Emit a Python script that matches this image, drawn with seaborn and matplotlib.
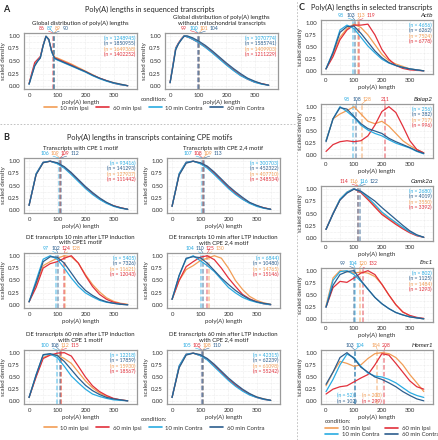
import numpy as np
import pandas as pd
import matplotlib
matplotlib.use("Agg")
import matplotlib.pyplot as plt
import seaborn as sns
from matplotlib.lines import Line2D

# --- DATA ---
CONDITIONS = ["10 min Ipsi", "60 min Ipsi", "10 min Contra", "60 min Contra"]
COLORS = {"10 min Ipsi": "#F29D55", "60 min Ipsi": "#E2303B",
          "10 min Contra": "#29ABE2", "60 min Contra": "#2C5E8E"}
N_ORDER = [2, 3, 0, 1]  # n labels listed LB, DB, OR, RD

X_A = [0, 10, 20, 30, 40, 50, 60, 70, 80, 90, 100, 125, 150, 175, 200, 225, 250, 275, 300, 325, 350]
X = [0, 25, 50, 75, 100, 125, 150, 175, 200, 225, 250, 275, 300, 325, 350]

# A: global distributions (curves in CONDITIONS order)
a1_curves = [
    [0.05, 0.24, 0.43, 0.51, 0.58, 0.81, 0.99, 0.93, 0.71, 0.58, 0.56, 0.50, 0.44, 0.37, 0.30, 0.23, 0.16, 0.11, 0.07, 0.04, 0.01],
    [0.05, 0.27, 0.47, 0.53, 0.59, 0.82, 0.99, 0.92, 0.69, 0.56, 0.54, 0.48, 0.42, 0.35, 0.29, 0.22, 0.16, 0.11, 0.06, 0.03, 0.01],
    [0.04, 0.23, 0.41, 0.50, 0.57, 0.81, 0.99, 0.92, 0.68, 0.55, 0.52, 0.46, 0.40, 0.34, 0.28, 0.21, 0.15, 0.10, 0.06, 0.03, 0.01],
    [0.04, 0.22, 0.40, 0.49, 0.56, 0.80, 0.99, 0.93, 0.70, 0.56, 0.53, 0.47, 0.41, 0.35, 0.29, 0.22, 0.16, 0.11, 0.07, 0.04, 0.01],
]
a1_medians = [89, 86, 87, 90]
a1_n = [1649368, 1402252, 1248945, 1850955]

a2_curves = [
    [0.07, 0.40, 0.74, 0.85, 0.93, 1.00, 0.98, 0.96, 0.94, 0.91, 0.88, 0.79, 0.68, 0.56, 0.44, 0.33, 0.23, 0.15, 0.09, 0.05, 0.02],
    [0.07, 0.42, 0.76, 0.86, 0.94, 1.00, 0.98, 0.96, 0.93, 0.90, 0.87, 0.78, 0.67, 0.55, 0.43, 0.32, 0.22, 0.14, 0.08, 0.05, 0.02],
    [0.07, 0.41, 0.75, 0.85, 0.93, 1.00, 0.98, 0.96, 0.93, 0.90, 0.87, 0.77, 0.66, 0.54, 0.42, 0.31, 0.21, 0.14, 0.08, 0.04, 0.02],
    [0.07, 0.38, 0.72, 0.84, 0.92, 0.99, 1.00, 0.98, 0.96, 0.93, 0.90, 0.81, 0.70, 0.58, 0.46, 0.35, 0.25, 0.16, 0.10, 0.05, 0.02],
]
a2_medians = [101, 99, 100, 104]
a2_n = [1409903, 1211229, 1070774, 1585741]

# B: CPE motifs
b1_curves = [
    [0.10, 0.73, 0.96, 0.99, 0.95, 0.87, 0.74, 0.60, 0.46, 0.34, 0.24, 0.15, 0.09, 0.05, 0.02],
    [0.10, 0.73, 0.97, 0.99, 0.95, 0.86, 0.74, 0.60, 0.46, 0.34, 0.23, 0.15, 0.09, 0.05, 0.02],
    [0.10, 0.74, 0.97, 0.99, 0.94, 0.85, 0.72, 0.58, 0.44, 0.32, 0.22, 0.14, 0.08, 0.04, 0.02],
    [0.10, 0.72, 0.96, 0.99, 0.96, 0.88, 0.76, 0.62, 0.48, 0.36, 0.25, 0.16, 0.09, 0.05, 0.02],
]
b1_medians = [109, 109.2, 106, 112]
b1_n = [127937, 111442, 93416, 141293]

b2_curves = [
    [0.08, 0.72, 0.96, 0.99, 0.95, 0.88, 0.75, 0.61, 0.47, 0.35, 0.24, 0.15, 0.09, 0.05, 0.02],
    [0.08, 0.73, 0.97, 0.99, 0.95, 0.87, 0.74, 0.60, 0.46, 0.34, 0.23, 0.15, 0.09, 0.05, 0.02],
    [0.08, 0.74, 0.97, 0.99, 0.94, 0.85, 0.72, 0.58, 0.44, 0.32, 0.22, 0.14, 0.08, 0.04, 0.02],
    [0.08, 0.71, 0.95, 0.99, 0.96, 0.89, 0.77, 0.63, 0.49, 0.37, 0.26, 0.16, 0.10, 0.05, 0.02],
]
b2_medians = [109, 108, 107, 113]
b2_n = [407710, 348534, 300703, 452322]

b3_curves = [
    [0.07, 0.42, 0.80, 0.88, 0.95, 1.00, 0.98, 0.85, 0.62, 0.42, 0.27, 0.15, 0.08, 0.04, 0.02],
    [0.07, 0.36, 0.75, 0.84, 0.88, 0.95, 1.00, 0.85, 0.60, 0.38, 0.22, 0.12, 0.06, 0.03, 0.01],
    [0.07, 0.50, 0.93, 1.00, 0.93, 0.75, 0.55, 0.38, 0.25, 0.17, 0.10, 0.06, 0.04, 0.02, 0.01],
    [0.07, 0.45, 0.88, 0.98, 0.97, 0.85, 0.65, 0.45, 0.30, 0.20, 0.12, 0.07, 0.04, 0.02, 0.01],
]
b3_medians = [128, 124, 97, 102]
b3_n = [11621, 12043, 5405, 7326]

b4_curves = [
    [0.12, 0.50, 0.72, 0.80, 0.90, 0.95, 1.00, 0.95, 0.75, 0.50, 0.32, 0.18, 0.10, 0.05, 0.02],
    [0.12, 0.50, 0.78, 0.88, 0.97, 1.00, 0.92, 0.75, 0.55, 0.38, 0.22, 0.13, 0.07, 0.03, 0.01],
    [0.12, 0.60, 0.93, 1.00, 0.90, 0.80, 0.68, 0.52, 0.36, 0.25, 0.16, 0.10, 0.06, 0.03, 0.01],
    [0.12, 0.60, 0.95, 0.98, 0.96, 0.85, 0.70, 0.55, 0.42, 0.30, 0.20, 0.12, 0.07, 0.04, 0.02],
]
b4_medians = [130, 125, 104, 110]
b4_n = [14765, 15146, 6844, 10480]

b5_curves = [
    [0.08, 0.52, 0.90, 0.96, 0.95, 0.88, 0.78, 0.60, 0.42, 0.28, 0.17, 0.10, 0.05, 0.03, 0.01],
    [0.08, 0.50, 0.88, 0.95, 0.99, 1.00, 0.93, 0.72, 0.50, 0.32, 0.20, 0.12, 0.06, 0.03, 0.01],
    [0.08, 0.55, 0.95, 0.97, 0.90, 0.72, 0.52, 0.38, 0.25, 0.15, 0.10, 0.06, 0.03, 0.02, 0.01],
    [0.08, 0.54, 0.96, 0.98, 0.94, 0.82, 0.65, 0.48, 0.33, 0.22, 0.14, 0.08, 0.05, 0.03, 0.01],
]
b5_medians = [112, 115, 100, 108]
b5_n = [15930, 18567, 12218, 17859]

b6_curves = [
    [0.08, 0.70, 0.96, 0.99, 0.95, 0.87, 0.74, 0.60, 0.46, 0.34, 0.23, 0.15, 0.09, 0.05, 0.02],
    [0.08, 0.72, 0.97, 0.99, 0.94, 0.86, 0.73, 0.59, 0.45, 0.33, 0.23, 0.14, 0.08, 0.04, 0.02],
    [0.08, 0.73, 0.97, 0.99, 0.94, 0.85, 0.71, 0.57, 0.43, 0.31, 0.21, 0.13, 0.08, 0.04, 0.02],
    [0.08, 0.69, 0.95, 0.99, 0.96, 0.88, 0.76, 0.62, 0.48, 0.36, 0.25, 0.16, 0.09, 0.05, 0.02],
]
b6_medians = [108, 105.2, 104.8, 110]
b6_n = [61098, 55242, 42315, 62239]

# C: selected transcripts
actb_curves = [
    [0.05, 0.35, 0.70, 0.88, 0.97, 0.90, 0.75, 0.55, 0.35, 0.22, 0.15, 0.10, 0.05, 0.03, 0.01],
    [0.05, 0.30, 0.65, 0.85, 0.95, 0.95, 0.97, 0.75, 0.45, 0.25, 0.12, 0.06, 0.03, 0.02, 0.01],
    [0.05, 0.40, 0.85, 0.95, 0.88, 0.70, 0.52, 0.38, 0.25, 0.17, 0.12, 0.08, 0.05, 0.03, 0.01],
    [0.05, 0.38, 0.80, 0.92, 0.93, 0.78, 0.60, 0.42, 0.28, 0.18, 0.12, 0.08, 0.05, 0.03, 0.01],
]
actb_medians = [113, 119, 98, 103]
actb_n = [7524, 6778, 4656, 6262]

baiap2_curves = [
    [0.30, 0.75, 0.85, 0.92, 1.00, 0.85, 0.70, 0.65, 0.70, 0.60, 0.45, 0.30, 0.20, 0.12, 0.05],
    [0.08, 0.22, 0.28, 0.30, 0.28, 0.30, 0.40, 0.62, 0.90, 1.00, 0.88, 0.60, 0.30, 0.12, 0.05],
    [0.30, 0.75, 1.00, 0.90, 0.78, 0.62, 0.52, 0.45, 0.40, 0.32, 0.25, 0.20, 0.15, 0.08, 0.03],
    [0.28, 0.75, 0.98, 0.95, 0.80, 0.65, 0.55, 0.50, 0.45, 0.35, 0.28, 0.22, 0.16, 0.09, 0.04],
]
baiap2_medians = [128, 211, 98, 108]
baiap2_n = [717, 996, 256, 382]

camk2a_curves = [
    [0.18, 0.50, 0.78, 0.93, 1.00, 0.93, 0.80, 0.65, 0.50, 0.40, 0.30, 0.20, 0.12, 0.06, 0.02],
    [0.18, 0.50, 0.78, 0.92, 1.00, 0.92, 0.78, 0.63, 0.48, 0.38, 0.28, 0.19, 0.11, 0.05, 0.02],
    [0.18, 0.50, 0.79, 0.93, 1.00, 0.94, 0.82, 0.68, 0.53, 0.42, 0.32, 0.22, 0.13, 0.06, 0.02],
    [0.18, 0.49, 0.77, 0.91, 0.99, 0.95, 0.85, 0.75, 0.62, 0.50, 0.38, 0.26, 0.15, 0.07, 0.02],
]
camk2a_medians = [115.8, 114, 116.2, 122]
camk2a_n = [3550, 3392, 2680, 4019]

enc1_curves = [
    [0.28, 0.85, 1.00, 0.98, 0.95, 0.97, 0.95, 0.88, 0.72, 0.50, 0.30, 0.15, 0.07, 0.03, 0.01],
    [0.25, 0.65, 0.78, 0.76, 0.85, 0.95, 1.00, 0.92, 0.72, 0.50, 0.30, 0.15, 0.08, 0.04, 0.02],
    [0.25, 0.80, 0.98, 1.00, 0.92, 0.78, 0.62, 0.45, 0.32, 0.22, 0.14, 0.09, 0.05, 0.03, 0.01],
    [0.25, 0.70, 0.92, 0.98, 1.00, 0.80, 0.62, 0.45, 0.32, 0.22, 0.14, 0.09, 0.05, 0.03, 0.01],
]
enc1_medians = [120, 132, 104, 99]
enc1_n = [1484, 1293, 802, 1125]

homer1_curves = [
    [0.32, 0.60, 0.82, 0.78, 0.72, 0.75, 0.88, 0.98, 1.00, 0.98, 0.90, 0.75, 0.55, 0.38, 0.20],
    [0.15, 0.25, 0.30, 0.32, 0.40, 0.48, 0.55, 0.75, 0.98, 0.95, 0.78, 0.60, 0.42, 0.30, 0.25],
    [0.20, 0.45, 0.75, 0.97, 0.90, 0.72, 0.58, 0.52, 0.50, 0.45, 0.38, 0.28, 0.18, 0.12, 0.08],
    [0.35, 0.60, 0.90, 1.00, 0.88, 0.70, 0.60, 0.50, 0.45, 0.38, 0.30, 0.20, 0.12, 0.05, 0.01],
]
homer1_medians = [184, 208, 104, 103]
homer1_n = [203, 299, 52, 102]

# --- STYLE / LAYOUT ---
W, H = 438, 440
sns.set_theme(style="white")
plt.rcParams["font.family"] = ["Lato", "DejaVu Sans"]
GRAY = "#333333"
FRAME = "#9a9a9a"

fig = plt.figure(figsize=(W / 100, H / 100), dpi=100)


def px_text(x, y, s, **kw):
    fig.text(x / W, 1 - y / H, s, **kw)


def spread(vals, gap):
    order = np.argsort(vals, kind="stable")
    pos = np.asarray(vals, float)[order]
    for _ in range(300):
        for i in range(len(pos) - 1):
            d = pos[i + 1] - pos[i]
            if d < gap:
                pos[i] -= (gap - d) / 2
                pos[i + 1] += (gap - d) / 2
    out = np.empty_like(pos)
    out[order] = pos
    return out


def panel(box, x, curves, medians, counts, title=None, gene=None, n_bottom=False):
    l, t, r, b = box
    ax = fig.add_axes([l / W, 1 - b / H, (r - l) / W, (b - t) / H])
    rows = [(c, xi, yi) for c, ys in zip(CONDITIONS, curves) for xi, yi in zip(x, ys)]
    df = pd.DataFrame(rows, columns=["condition", "length", "density"])
    sns.lineplot(data=df, x="length", y="density", hue="condition", hue_order=CONDITIONS,
                 palette=COLORS, linewidth=0.9, legend=False, ax=ax, zorder=3)
    for c, m in zip(CONDITIONS, medians):
        ax.axvline(m, color=COLORS[c], ls=(0, (3, 1.5)), lw=1.1, alpha=0.55, zorder=2)

    ax.set_xlim(-18, 383)
    ax.set_ylim(-0.055, 1.055)
    ax.set_xticks([0, 100, 200, 300])
    ax.set_yticks([0, 0.25, 0.5, 0.75, 1.0])
    ax.set_yticklabels(["0.00", "0.25", "0.50", "0.75", "1.00"])
    ax.set_xticks([50, 150, 250, 350], minor=True)
    ax.set_yticks([0.125, 0.375, 0.625, 0.875], minor=True)
    ax.grid(True, which="both", color="#dcdcdc", lw=0.4, ls=(0, (1, 1.5)))
    ax.tick_params(labelsize=4.3, colors=GRAY, length=1.8, width=0.5, pad=1)
    ax.tick_params(which="minor", length=0)
    for sp in ax.spines.values():
        sp.set_color(FRAME)
        sp.set_linewidth(0.9)
    ax.set_xlabel("poly(A) length", fontsize=4.4, color=GRAY, labelpad=1)
    ax.set_ylabel("scaled density", fontsize=4.4, color=GRAY, labelpad=1.5)

    # median labels, spread above the frame
    hpx = b - t
    tr = ax.get_xaxis_transform()
    gap = 29 if max(medians) < 100 else 36
    pos = spread(medians, gap)
    for c, m, p in zip(CONDITIONS, medians, pos):
        ax.annotate(f"{m:.0f}", xy=(m, 1.0), xycoords=tr, xytext=(p, 1 + 4.5 / hpx), textcoords=tr,
                    ha="center", va="center", fontsize=3.7, color=COLORS[c],
                    arrowprops=dict(arrowstyle="-", color=COLORS[c], lw=0.35, shrinkA=0.5, shrinkB=0),
                    annotation_clip=False)

    # sample sizes
    if not n_bottom:
        for k, i in enumerate(N_ORDER):
            ax.text(0.985, 0.95 - k * 5.4 / hpx, f"(n = {counts[i]})", transform=ax.transAxes,
                    ha="right", va="top", fontsize=3.6, color=COLORS[CONDITIONS[i]])
    else:
        spots = {2: (0.14, 0.15), 3: (0.14, 0.05), 0: (0.37, 0.15), 1: (0.37, 0.05)}
        for i, (xx, yy) in spots.items():
            ax.text(xx, yy, f"(n = {counts[i]})", transform=ax.transAxes, ha="left", va="center",
                    fontsize=3.6, color=COLORS[CONDITIONS[i]])

    if title:
        ax.text(0.5, 1 + 8.5 / hpx, title, transform=ax.transAxes, ha="center", va="baseline",
                fontsize=4.3, color="#222222", linespacing=1.15)
    if gene:
        ax.text(1.0, 1 + 2.5 / hpx, gene, transform=ax.transAxes, ha="right", va="bottom",
                fontsize=4.6, style="italic", color="#222222")
    return ax


# panel A
px_text(3, 9, "A", fontsize=6.5, fontweight="bold", va="center")
px_text(150, 9, "Poly(A) lengths in sequenced transcripts", fontsize=5.3, ha="center", va="center")
panel((24, 33, 137, 89), X_A, a1_curves, a1_medians, a1_n,
      title="Global distribution of poly(A) lengths")
panel((165, 33, 278, 89), X_A, a2_curves, a2_medians, a2_n,
      title="Global distribution of poly(A) lengths\nwithout mitochondrial transcripts")

# panel B
px_text(3, 137, "B", fontsize=6.5, fontweight="bold", va="center")
px_text(150, 137, "Poly(A) lengths in transcripts containing CPE motifs", fontsize=5.3, ha="center", va="center")
panel((24, 158, 137, 213), X, b1_curves, b1_medians, b1_n, title="Transcripts with CPE 1 motif")
panel((167, 158, 280, 213), X, b2_curves, b2_medians, b2_n, title="Transcripts with CPE 2,4 motif")
panel((24, 253, 137, 308), X, b3_curves, b3_medians, b3_n,
      title="DE transcripts 10 min after LTP induction\nwith CPE1 motif")
panel((167, 253, 280, 308), X, b4_curves, b4_medians, b4_n,
      title="DE transcripts 10 min after LTP induction\nwith CPE 2,4 motif")
panel((24, 350, 137, 404), X, b5_curves, b5_medians, b5_n,
      title="DE transcripts 60 min after LTP induction\nwith CPE 1 motif")
panel((167, 350, 280, 404), X, b6_curves, b6_medians, b6_n,
      title="DE transcripts 60 min after LTP induction\nwith CPE 2,4 motif")

# panel C
px_text(299, 8, "C", fontsize=6.5, fontweight="bold", va="center")
px_text(372, 7, "Poly(A) lengths in selected transcripts", fontsize=5.3, ha="center", va="center")
panel((321, 20, 433, 74), X, actb_curves, actb_medians, actb_n, gene="Actb")
panel((321, 104, 433, 158), X, baiap2_curves, baiap2_medians, baiap2_n, gene="Baiap2")
panel((321, 186, 433, 241), X, camk2a_curves, camk2a_medians, camk2a_n, gene="Camk2a")
panel((321, 268, 433, 322), X, enc1_curves, enc1_medians, enc1_n, gene="Enc1")
panel((321, 350, 433, 404), X, homer1_curves, homer1_medians, homer1_n, gene="Homer1", n_bottom=True)

# legends
handles = [Line2D([], [], color=COLORS[c], lw=1.2) for c in CONDITIONS]
leg_kw = dict(frameon=False, fontsize=4.3, handlelength=2.2, handletextpad=0.6,
              title="condition:", title_fontsize=4.3, borderpad=0, labelcolor=GRAY)
for ycen in (104, 424):
    lg = fig.legend(handles, CONDITIONS, ncol=4, loc="center", bbox_to_anchor=(154 / W, 1 - ycen / H),
                    columnspacing=1.2, **leg_kw)
    lg.get_title().set_color(GRAY)
lg = fig.legend([handles[i] for i in (0, 2, 1, 3)], [CONDITIONS[i] for i in (0, 2, 1, 3)], ncol=2,
                loc="upper left", bbox_to_anchor=(322 / W, 1 - 416 / H), columnspacing=1.0,
                labelspacing=0.25, alignment="left", **leg_kw)
lg.get_title().set_color(GRAY)

# separators
fig.add_artist(Line2D([0, 296 / W], [1 - 124 / H] * 2, color="#b8b8b8", lw=0.6, ls=(0, (2, 2))))
fig.add_artist(Line2D([297 / W] * 2, [0, 1], color="#b8b8b8", lw=0.6, ls=(0, (2, 2))))

fig.savefig("out.png", dpi=100)
